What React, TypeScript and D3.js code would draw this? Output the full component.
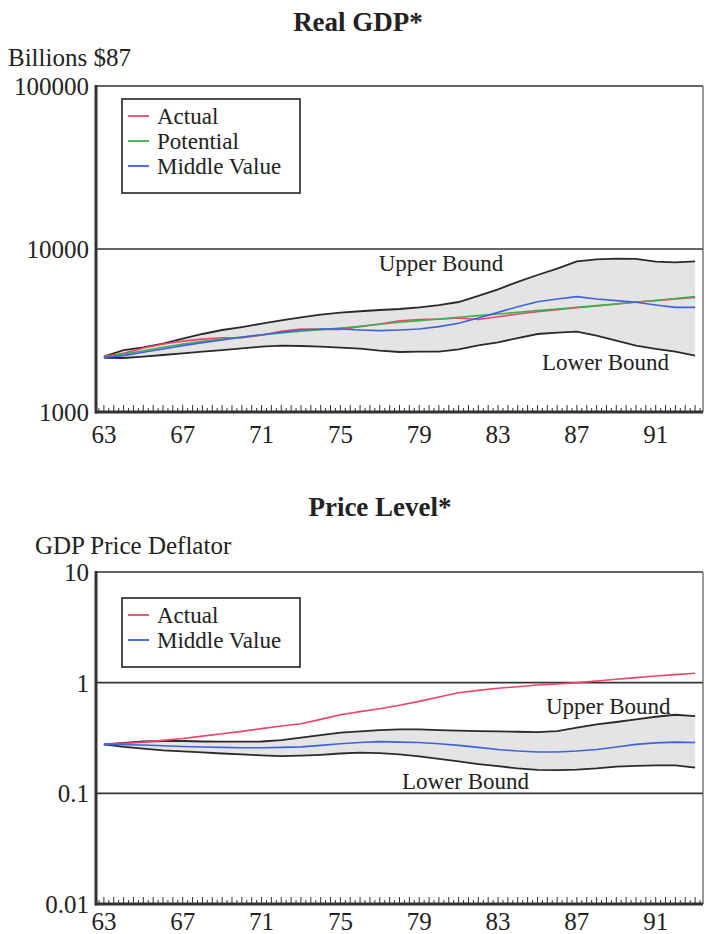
import * as d3 from "d3";

const years = [63, 64, 65, 66, 67, 68, 69, 70, 71, 72, 73, 74, 75, 76, 77, 78, 79, 80, 81, 82, 83, 84, 85, 86, 87, 88, 89, 90, 91, 92, 93];

// Real GDP, billions of 1987 dollars
const gdpActual = [2190, 2290, 2470, 2615, 2720, 2800, 2852, 2852, 2955, 3125, 3230, 3215, 3215, 3340, 3465, 3630, 3695, 3712, 3775, 3695, 3840, 3990, 4125, 4245, 4365, 4470, 4600, 4730, 4820, 4933, 5050];
const gdpPotential = [2165, 2270, 2378, 2495, 2615, 2714, 2806, 2886, 2967, 3052, 3126, 3201, 3278, 3356, 3452, 3550, 3634, 3722, 3811, 3902, 3995, 4091, 4189, 4289, 4391, 4496, 4603, 4713, 4826, 4963, 5103];
const gdpMiddle = [2165, 2218, 2324, 2437, 2553, 2663, 2766, 2873, 2981, 3082, 3186, 3229, 3229, 3186, 3157, 3186, 3229, 3340, 3500, 3775, 4085, 4425, 4750, 4933, 5100, 4933, 4820, 4710, 4532, 4387, 4387];
const gdpUpper = [2190, 2400, 2495, 2625, 2815, 3010, 3185, 3320, 3480, 3650, 3810, 3955, 4065, 4150, 4225, 4285, 4385, 4530, 4730, 5150, 5660, 6280, 6925, 7570, 8400, 8640, 8725, 8690, 8360, 8280, 8400];
const gdpLower = [2150, 2144, 2185, 2237, 2290, 2345, 2400, 2458, 2518, 2553, 2541, 2518, 2483, 2448, 2378, 2334, 2345, 2345, 2420, 2565, 2675, 2843, 3010, 3070, 3113, 2940, 2740, 2553, 2437, 2345, 2218];

// GDP price deflator, 1987 = 1
const priceActual = [0.277, 0.283, 0.29, 0.301, 0.313, 0.329, 0.346, 0.363, 0.384, 0.406, 0.426, 0.466, 0.513, 0.547, 0.582, 0.624, 0.678, 0.742, 0.812, 0.852, 0.889, 0.92, 0.953, 0.973, 1.0, 1.035, 1.072, 1.11, 1.149, 1.181, 1.215];
const priceMiddle = [0.277, 0.275, 0.273, 0.269, 0.265, 0.262, 0.26, 0.258, 0.258, 0.26, 0.263, 0.271, 0.281, 0.288, 0.293, 0.29, 0.288, 0.281, 0.271, 0.26, 0.249, 0.241, 0.236, 0.236, 0.241, 0.249, 0.262, 0.277, 0.286, 0.29, 0.288];
const priceUpper = [0.277, 0.286, 0.294, 0.297, 0.297, 0.294, 0.293, 0.293, 0.294, 0.303, 0.318, 0.336, 0.353, 0.363, 0.373, 0.378, 0.378, 0.373, 0.368, 0.365, 0.363, 0.36, 0.358, 0.365, 0.392, 0.42, 0.441, 0.466, 0.492, 0.513, 0.499];
const priceLower = [0.277, 0.263, 0.253, 0.244, 0.239, 0.234, 0.229, 0.225, 0.22, 0.217, 0.219, 0.223, 0.229, 0.233, 0.231, 0.225, 0.216, 0.205, 0.194, 0.184, 0.176, 0.168, 0.163, 0.162, 0.164, 0.168, 0.174, 0.177, 0.179, 0.179, 0.171];

const yearLabels = [63, 67, 71, 75, 79, 83, 87, 91];
const gdpTicks = [1000, 10000, 100000];
const priceTicks = [0.01, 0.1, 1, 10];

const RED = "#f0436c";
const GREEN = "#3fae4f";
const BLUE = "#3d63dc";
const FONT = "'Liberation Serif', serif";

const x = d3.scaleLinear().domain([62.6, 93.4]).range([96, 703]);
const minorTicks = d3.range(62.75, 93.4, 0.25);

type Line = { name: string; color: string; values: number[] };

function Panel({ y, ticks, fmt, lines, upper, lower, legendY, legendH, upperLabel, lowerLabel, labelDy }: any) {
  const [y0, y1] = y.range();
  const band = d3.area<number>()
    .x((_, i) => x(years[i]))
    .y0((_, i) => y(lower[i]))
    .y1((_, i) => y(upper[i]));
  const path = (vals: number[]) =>
    d3.line<number>().x((_, i) => x(years[i])).y((d) => y(d))(vals) || "";

  return (
    <g>
      <path d={band(upper) || ""} fill="#e4e4e4" />
      {ticks.slice(1, -1).map((t: number) => (
        <line key={t} x1={96} x2={703} y1={y(t)} y2={y(t)} stroke="#333" strokeWidth={1.6} />
      ))}
      <path d={path(upper)} fill="none" stroke="#2a2a2a" strokeWidth={1.8} />
      <path d={path(lower)} fill="none" stroke="#2a2a2a" strokeWidth={1.8} />
      {lines.map((l: Line) => (
        <path key={l.name} d={path(l.values)} fill="none" stroke={l.color} strokeWidth={1.6} />
      ))}
      {/* frame */}
      <line x1={96} x2={703} y1={y1} y2={y1} stroke="#333" strokeWidth={1.6} />
      <line x1={703} x2={703} y1={y1} y2={y0} stroke="#555" strokeWidth={1.2} />
      <line x1={96} x2={96} y1={y1 - 1} y2={y0 + 1.5} stroke="#333" strokeWidth={3} />
      <line x1={95} x2={703} y1={y0} y2={y0} stroke="#333" strokeWidth={3} />
      {minorTicks.map((t) => (
        <line key={t} x1={x(t)} x2={x(t)} y1={y0} y2={y0 - (Math.abs(t * 2 - Math.round(t * 2)) < 0.01 ? 7 : 4)} stroke="#333" strokeWidth={1} />
      ))}
      {ticks.map((t: number) => (
        <text key={"l" + t} x={89} y={y(t) + 9} textAnchor="end" fontSize={25} fill="#222">{fmt(t)}</text>
      ))}
      {yearLabels.map((yr) => (
        <text key={yr} x={x(yr)} y={y0 + labelDy} textAnchor="middle" fontSize={25} fill="#222">{yr}</text>
      ))}
      {/* legend */}
      <rect x={122} y={legendY} width={178} height={legendH} fill="white" stroke="#222" strokeWidth={1.6} />
      {lines.map((l: Line, i: number) => (
        <g key={"lg" + l.name}>
          <line x1={128} x2={149} y1={legendY + 17 + i * 25} y2={legendY + 17 + i * 25} stroke={l.color} strokeWidth={1.8} />
          <text x={157} y={legendY + 25 + i * 25} fontSize={23} fill="#222">{l.name}</text>
        </g>
      ))}
      <text {...upperLabel} fontSize={23} fill="#222">Upper Bound</text>
      <text {...lowerLabel} fontSize={23} fill="#222">Lower Bound</text>
    </g>
  );
}

export default function App() {
  const yGdp = d3.scaleLog().domain([1000, 100000]).range([412, 86]);
  const yPrice = d3.scaleLog().domain([0.01, 10]).range([904, 572]);

  return (
    <svg width={706} height={934} style={{ position: "absolute", left: 0, top: 0, background: "white" }} fontFamily={FONT}>
      <text x={358} y={31} textAnchor="middle" fontSize={27} fontWeight="bold" fill="#222">Real GDP*</text>
      <text x={8} y={66} fontSize={25} fill="#222">Billions $87</text>
      <Panel
        y={yGdp}
        ticks={gdpTicks}
        fmt={(t: number) => String(t)}
        lines={[
          { name: "Actual", color: RED, values: gdpActual },
          { name: "Potential", color: GREEN, values: gdpPotential },
          { name: "Middle Value", color: BLUE, values: gdpMiddle },
        ]}
        upper={gdpUpper}
        lower={gdpLower}
        legendY={99}
        legendH={94}
        upperLabel={{ x: 441, y: 271, textAnchor: "middle" }}
        lowerLabel={{ x: 542, y: 370 }}
        labelDy={31}
      />
      <text x={380} y={516} textAnchor="middle" fontSize={27} fontWeight="bold" fill="#222">Price Level*</text>
      <text x={35} y={554} fontSize={25} fill="#222">GDP Price Deflator</text>
      <Panel
        y={yPrice}
        ticks={priceTicks}
        fmt={(t: number) => String(t)}
        lines={[
          { name: "Actual", color: RED, values: priceActual },
          { name: "Middle Value", color: BLUE, values: priceMiddle },
        ]}
        upper={priceUpper}
        lower={priceLower}
        legendY={598}
        legendH={69}
        upperLabel={{ x: 546, y: 714 }}
        lowerLabel={{ x: 402, y: 789 }}
        labelDy={26}
      />
    </svg>
  );
}
